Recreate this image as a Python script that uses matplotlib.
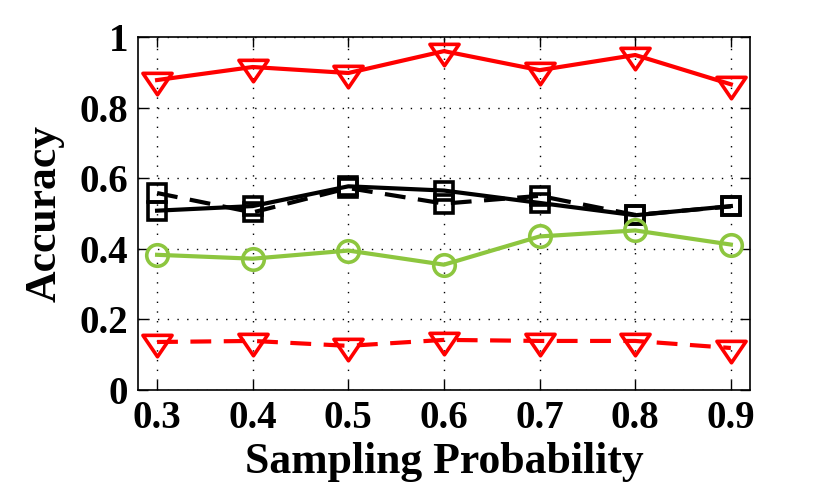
import matplotlib
matplotlib.use("Agg")
import matplotlib.pyplot as plt
from matplotlib.path import Path

# Sampling probability vs accuracy
prob = [0.3, 0.4, 0.5, 0.6, 0.7, 0.8, 0.9]
red_solid = [0.878, 0.915, 0.898, 0.960, 0.906, 0.949, 0.866]
red_dashed = [0.136, 0.139, 0.125, 0.142, 0.139, 0.139, 0.119]
green_solid = [0.383, 0.372, 0.395, 0.355, 0.435, 0.452, 0.412]
black_solid = [0.508, 0.521, 0.577, 0.565, 0.530, 0.495, 0.521]
black_dashed = [0.558, 0.503, 0.572, 0.528, 0.550, 0.496, 0.520]

xticks = [0.3, 0.4, 0.5, 0.6, 0.7, 0.8, 0.9]
yticks = [0, 0.2, 0.4, 0.6, 0.8, 1.0]
ytick_labels = ["0", "0.2", "0.4", "0.6", "0.8", "1"]

plt.rcParams['font.family'] = ['Liberation Serif', 'DejaVu Serif']
plt.rcParams['font.weight'] = 'bold'

fig = plt.figure(figsize=(8.31, 5.0), dpi=100)
ax = fig.add_axes([0.166, 0.22, 0.7365, 0.706])

red = '#ff0000'
green = '#8dc63f'
lw = 3
mew = 2.6

# MATLAB-like down triangle: wider than tall, centred on its centroid
tri = Path([(-1, 0.49), (1, 0.49), (0, -0.98), (-1, 0.49)],
           [Path.MOVETO, Path.LINETO, Path.LINETO, Path.CLOSEPOLY])

ax.plot(prob, red_solid, '-', color=red, lw=lw, marker=tri, ms=21,
        mfc='none', mec=red, mew=mew)
ax.plot(prob, black_dashed, '--', color='k', lw=lw, marker='s', ms=13,
        mfc='none', mec='k', mew=mew, dashes=(5, 3))
ax.plot(prob, black_solid, '-', color='k', lw=lw, marker='s', ms=13,
        mfc='none', mec='k', mew=mew)
ax.plot(prob, green_solid, '-', color=green, lw=lw, marker='o', ms=15.5,
        mfc='none', mec=green, mew=mew)
ax.plot(prob, red_dashed, '--', color=red, lw=lw, marker=tri, ms=21,
        mfc='none', mec=red, mew=mew, dashes=(5, 3))

ax.set_xlim(0.28, 0.92)
ax.set_ylim(0, 1)
ax.set_xticks(xticks)
ax.set_xticklabels([f"{v:.1f}" for v in xticks])
ax.set_yticks(yticks)
ax.set_yticklabels(ytick_labels)

ax.grid(True, color='k', linestyle=(0, (1, 6)), linewidth=1)
ax.tick_params(direction='in', top=True, right=True, length=7, width=1,
               labelsize=28, pad=7)
for s in ax.spines.values():
    s.set_linewidth(1.2)

ax.set_xlabel('Sampling Probability', fontsize=31.5, fontweight='bold', labelpad=4)
ax.set_ylabel('Accuracy', fontsize=31.5, fontweight='bold', labelpad=11)

fig.savefig('out.png', dpi=100)
plt.close(fig)
